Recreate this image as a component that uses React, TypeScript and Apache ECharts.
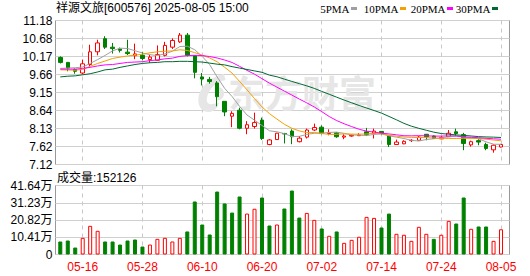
import React, { useEffect, useRef } from 'react';
import * as echarts from 'echarts';

// ---------- data ----------
const dates = [
  '05-13', '05-14', '05-15', '05-16', '05-19', '05-20', '05-21', '05-22', '05-23', '05-26',
  '05-27', '05-28', '05-29', '05-30', '06-03', '06-04', '06-05', '06-06', '06-09', '06-10',
  '06-11', '06-12', '06-13', '06-16', '06-17', '06-18', '06-19', '06-20', '06-23', '06-24',
  '06-25', '06-26', '06-27', '06-30', '07-01', '07-02', '07-03', '07-04', '07-07', '07-08',
  '07-09', '07-10', '07-11', '07-14', '07-15', '07-16', '07-17', '07-18', '07-21', '07-22',
  '07-23', '07-24', '07-25', '07-28', '07-29', '07-30', '07-31', '08-01', '08-04', '08-05',
];
const xTickLabels = ['05-16', '05-28', '06-10', '06-20', '07-02', '07-14', '07-24', '08-05'];

const opens = [
  10.14, 10.0, 9.8, 9.7, 9.94, 10.3, 10.67, 10.43, 10.38, 10.29,
  10.19, 10.2, 10.08, 10.06, 10.2, 10.43, 10.58, 10.77, 10.19, 9.59,
  9.52, 9.42, 8.9, 8.48, 8.65, 8.14, 8.19, 8.37, 7.68, 7.82,
  7.99, 8.06, 7.76, 7.89, 8.09, 8.17, 7.99, 8.01, 7.89, 7.92,
  7.93, 8.04, 7.99, 8.05, 7.92, 7.68, 7.7, 7.79, 7.8, 7.97,
  7.92, 7.84, 7.9, 8.04, 7.96, 7.67, 7.79, 7.68, 7.53, 7.61,
];
const closes = [
  10.0, 9.84, 9.75, 9.96, 10.3, 10.55, 10.43, 10.39, 10.34, 10.25,
  10.24, 10.11, 10.15, 10.22, 10.48, 10.62, 10.77, 10.2, 9.72, 9.53,
  9.46, 9.03, 8.6, 8.56, 8.14, 8.24, 8.3, 7.85, 7.81, 8.0,
  7.98, 7.9, 7.86, 8.09, 8.16, 7.99, 8.01, 7.9, 7.92, 7.94,
  7.95, 7.96, 8.06, 7.99, 7.68, 7.75, 7.77, 7.8, 7.89, 7.9,
  7.85, 7.88, 8.0, 7.99, 7.71, 7.76, 7.75, 7.57, 7.66, 7.68,
];
const lows = [
  9.97, 9.75, 9.68, 9.66, 9.89, 10.2, 10.38, 10.25, 10.28, 10.21,
  10.09, 10.06, 9.99, 10.05, 10.17, 10.38, 10.55, 10.17, 9.55, 9.35,
  9.4, 8.76, 8.48, 8.17, 8.11, 7.97, 8.13, 7.81, 7.66, 7.81,
  7.71, 7.69, 7.74, 7.85, 8.06, 7.97, 7.94, 7.87, 7.83, 7.9,
  7.92, 7.92, 7.85, 7.96, 7.61, 7.68, 7.69, 7.75, 7.8, 7.8,
  7.84, 7.83, 7.9, 7.92, 7.52, 7.62, 7.66, 7.52, 7.45, 7.6,
];
const highs = [
  10.17, 10.01, 9.83, 10.08, 10.5, 10.64, 10.74, 10.55, 10.42, 10.64,
  10.53, 10.3, 10.21, 10.48, 10.58, 10.68, 10.83, 10.83, 10.19, 9.7,
  9.59, 9.47, 8.9, 8.62, 8.72, 8.34, 8.58, 8.44, 7.83, 8.01,
  8.01, 8.11, 7.92, 8.13, 8.27, 8.22, 8.11, 8.03, 7.97, 7.96,
  8.0, 8.15, 8.13, 8.06, 7.92, 7.82, 7.8, 7.83, 7.92, 7.97,
  7.94, 7.92, 8.09, 8.13, 8.01, 7.79, 7.83, 7.73, 7.68, 7.7,
];
const volumes = [
  78500, 84500, 42000, 100600, 173000, 143000, 78500, 78500, 60000, 84500,
  90500, 48000, 60000, 94500, 100600, 78500, 100600, 139000, 320000, 181000,
  120700, 380000, 308000, 253000, 350000, 247000, 276000, 344000, 175000, 181000,
  277600, 386000, 223000, 251000, 209000, 157000, 113000, 139000, 70400, 88500,
  107000, 227000, 221000, 163000, 247000, 125000, 119000, 82500, 167000, 125000,
  94500, 119000, 203000, 187000, 344000, 155000, 169000, 169000, 82500, 152126,
];

// moving-average values before the window has enough closes
const ma5Head = [9.83, 9.84, 9.85, 9.87];
const ma10Head = [9.79, 9.785, 9.78, 9.8, 9.89, 9.97, 10.04, 10.11, 10.15];
const ma20Head = [
  9.81, 9.81, 9.81, 9.83, 9.86, 9.9, 9.93, 9.94, 9.97, 10.0,
  10.01, 10.02, 10.05, 10.07, 10.1, 10.12, 10.17, 10.19, 10.2,
];
const ma30Head = [
  9.59, 9.61, 9.62, 9.65, 9.68, 9.73, 9.79, 9.81, 9.86, 9.9,
  9.94, 9.97, 9.99, 10.0, 10.02, 10.02, 10.03, 10.03, 10.02, 10.01,
  9.98, 9.95, 9.93, 9.88, 9.84, 9.8, 9.76, 9.72, 9.64,
];

const priceAxisMin = 7.1158;
const priceAxisStep = 0.5085;
const priceAxisCount = 8;
const volAxisStep = 104100;
const volAxisCount = 4;
const lastVolume = 152126;

const titleText = '祥源文旅[600576] 2025-08-05 15:00';
const legendNames = ['5PMA', '10PMA', '20PMA', '30PMA'];

// ---------- helpers ----------
function movingAverage(head: number[], n: number): number[] {
  return closes.map((_, i) => {
    if (i < n - 1) return head[i];
    let s = 0;
    for (let k = i - n + 1; k <= i; k++) s += closes[k];
    return +(s / n).toFixed(4);
  });
}

const logoPath =
  'M34 0 C20 2 6 12 4 24 C3 32 8 38 16 38 C22 38 27 34 28 29 L20 30 C16 31 13 28 14 24 C16 15 24 8 36 6 Z ' +
  'M27 13 C32 13 35 17 34 21 C33 25 29 27 25 26 C28 24 30 21 29 18 Z';
let logoRegistered = false;
function registerLogo() {
  if (logoRegistered) return;
  echarts.graphic.registerShape('emLogo', echarts.graphic.extendPath(logoPath, {}) as any);
  logoRegistered = true;
}

const RED = '#ff0000';
const GREEN = '#008000';
const FONT = 'Arial, "Noto Sans CJK SC", sans-serif';

export default function App() {
  const ref = useRef<HTMLDivElement>(null);

  useEffect(() => {
    document.body.style.margin = '0';
    registerLogo();
    const chart = echarts.init(ref.current!, null, { renderer: 'svg' });

    const priceMax = priceAxisMin + priceAxisStep * priceAxisCount;
    const volMax = volAxisStep * volAxisCount;
    const candleData = dates.map((_, i) => [opens[i], closes[i], lows[i], highs[i]]);
    const volData = volumes.map((v, i) => {
      const up = i === 0 ? closes[0] >= opens[0] : closes[i] >= closes[i - 1];
      return {
        value: v,
        itemStyle: up
          ? { color: '#ffffff', borderColor: RED, borderWidth: 1 }
          : { color: GREEN, borderColor: GREEN, borderWidth: 1 },
      };
    });
    const showTick = (index: number) => xTickLabels.indexOf(dates[index]) >= 0;
    const maColors = ['#a0a0a0', '#f5a000', '#ff00ff', '#006a32'];
    const maData = [
      movingAverage(ma5Head, 5),
      movingAverage(ma10Head, 10),
      movingAverage(ma20Head, 20),
      movingAverage(ma30Head, 30),
    ];

    const frameX = 55.5;
    const frameW = 454;
    const dataX = 56.56;
    const dataW = 448.2;

    const splitV = {
      show: true,
      alignWithLabel: true,
      interval: showTick,
      lineStyle: { color: '#c8c8c8', type: [4, 4], width: 1 },
    } as any;

    const legendGraphics: any[] = [];
    const legendMarkerX = [351, 400, 447, 492];
    legendNames.forEach((name, k) => {
      legendGraphics.push({
        type: 'text',
        x: legendMarkerX[k] - 1.5,
        y: 9,
        style: {
          text: name,
          fill: '#000',
          font: '11px "Liberation Serif", serif',
          align: 'right',
          verticalAlign: 'middle',
        },
      });
      legendGraphics.push({
        type: 'rect',
        shape: { x: legendMarkerX[k], y: 7, width: 6, height: 3 },
        style: { fill: maColors[k] },
      });
    });

    chart.setOption({
      animation: false,
      backgroundColor: '#ffffff',
      grid: [
        { left: frameX, top: 20.5, width: frameW, height: 144, show: true, borderColor: '#999', borderWidth: 1, backgroundColor: 'transparent' },
        { left: dataX, top: 20.5, width: dataW, height: 144 },
        { left: frameX, top: 185.5, width: frameW, height: 69, show: true, borderColor: '#999', borderWidth: 1, backgroundColor: 'transparent' },
        { left: dataX, top: 185.5, width: dataW, height: 69 },
      ],
      xAxis: [
        { gridIndex: 0, type: 'value', show: false, min: 0, max: 1 },
        {
          gridIndex: 1, type: 'category', data: dates, boundaryGap: true,
          axisLine: { show: false }, axisTick: { show: false }, axisLabel: { show: false },
          splitLine: splitV,
        },
        { gridIndex: 2, type: 'value', show: false, min: 0, max: 1 },
        {
          gridIndex: 3, type: 'category', data: dates, boundaryGap: true,
          axisLine: { show: false }, axisTick: { show: false },
          axisLabel: { show: true, interval: showTick, color: RED, fontSize: 12, fontFamily: FONT, margin: 6 },
          splitLine: splitV,
        },
      ],
      yAxis: [
        {
          gridIndex: 0, type: 'value', min: priceAxisMin, max: priceMax, interval: priceAxisStep,
          axisLine: { show: false }, axisTick: { show: false },
          axisLabel: { color: '#000', fontSize: 12, fontFamily: FONT, margin: 3, formatter: (v: number) => v.toFixed(2) },
          splitLine: { show: true, lineStyle: { color: '#d0d0d0', width: 1 } },
        },
        { gridIndex: 1, type: 'value', min: priceAxisMin, max: priceMax, show: false },
        {
          gridIndex: 2, type: 'value', min: 0, max: volMax, interval: volAxisStep,
          axisLine: { show: false }, axisTick: { show: false },
          axisLabel: {
            color: '#000', fontSize: 12, fontFamily: FONT, margin: 3,
            formatter: (v: number) => (v === 0 ? '0' : (v / 10000).toFixed(2) + '万'),
          },
          splitLine: { show: true, lineStyle: { color: '#d0d0d0', width: 1 } },
        },
        { gridIndex: 3, type: 'value', min: 0, max: volMax, show: false },
      ],
      series: [
        {
          type: 'candlestick', xAxisIndex: 1, yAxisIndex: 1, data: candleData, barWidth: 4,
          itemStyle: { color: '#ffffff', color0: GREEN, borderColor: RED, borderColor0: GREEN, borderWidth: 1 },
        },
        ...legendNames.map((name, k) => ({
          type: 'line', name, xAxisIndex: 1, yAxisIndex: 1, data: maData[k],
          showSymbol: false, symbol: 'none', smooth: false,
          lineStyle: { color: maColors[k], width: 1 }, itemStyle: { color: maColors[k] },
        })),
        { type: 'bar', xAxisIndex: 3, yAxisIndex: 3, data: volData, barWidth: 4 },
      ],
      graphic: [
        {
          type: 'emLogo', x: 195, y: 74, scaleX: 0.85, scaleY: 1.0, z: 1,
          style: { fill: '#e6e6e6' },
        },
        {
          type: 'text', x: 228, y: 92, z: 1,
          style: { text: '东方财富', fill: '#e6e6e6', font: 'bold 37px "Noto Sans CJK SC"', verticalAlign: 'middle' },
        },
        {
          type: 'text', x: 56, y: 8,
          style: { text: titleText, fill: '#000', font: '12px ' + FONT, verticalAlign: 'middle' },
        },
        {
          type: 'text', x: 57, y: 177.5,
          style: { text: '成交量:' + lastVolume, fill: '#000', font: '12px ' + FONT, verticalAlign: 'middle' },
        },
        ...legendGraphics,
      ],
    } as any);

    return () => chart.dispose();
  }, []);

  return <div ref={ref} style={{ width: 530, height: 276 }} />;
}
